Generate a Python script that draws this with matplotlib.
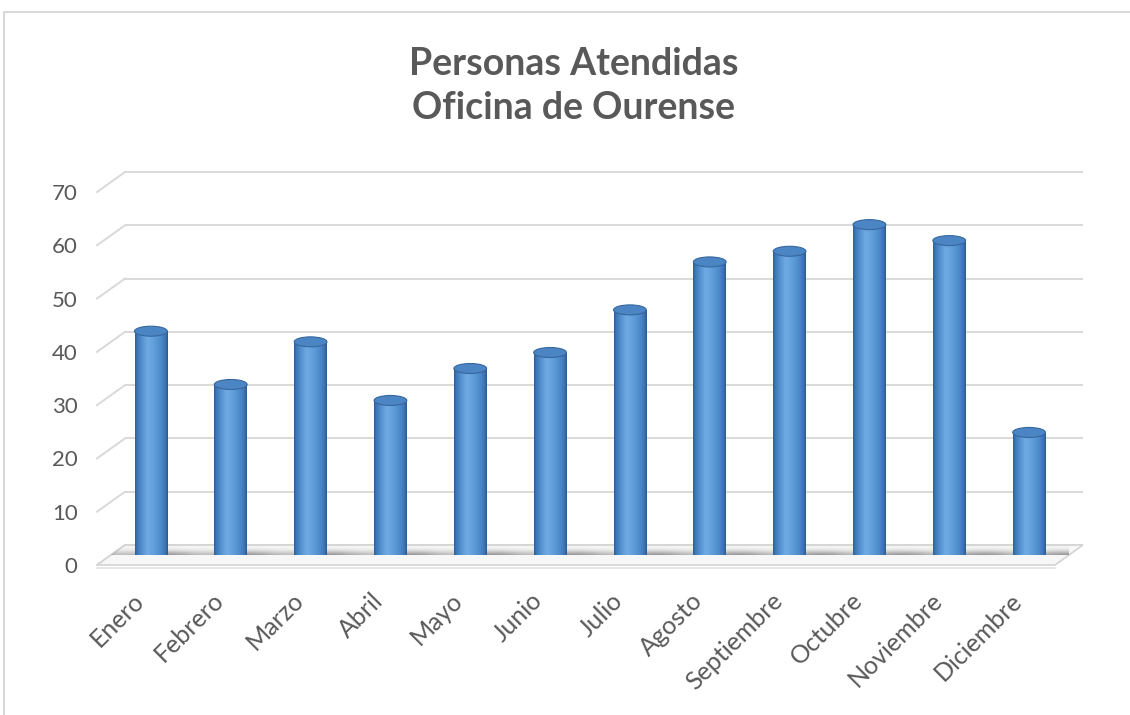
import numpy as np
import matplotlib
matplotlib.use('Agg')
import matplotlib.pyplot as plt
from matplotlib.patches import Ellipse, Polygon, Rectangle
from matplotlib.colors import LinearSegmentedColormap
from matplotlib.transforms import ScaledTranslation

# ---- data ----
months = ['Enero', 'Febrero', 'Marzo', 'Abril', 'Mayo', 'Junio', 'Julio',
          'Agosto', 'Septiembre', 'Octubre', 'Noviembre', 'Diciembre']
values = [42, 32, 40, 29, 35, 38, 46, 55, 57, 62, 59, 23]
yticks = [0, 10, 20, 30, 40, 50, 60, 70]
title_lines = ['Personas Atendidas', 'Oficina de Ourense']

W, H = 1130, 715
fig = plt.figure(figsize=(W / 100, H / 100), dpi=100)
fig.patch.set_facecolor('white')

ax = fig.add_axes([111 / W, 160 / H, 958 / W, 373 / H])
XL, XR = -0.5, 11.5
ax.set_xlim(XL, XR)
ax.set_ylim(0, 70)
ux = (XR - XL) / 958.0
uy = 70 / 373.0
DX, DY = 14, 10  # depth offsets (px)

grid_c = '#d9d9d9'
# back-plane gridlines + left diagonal
for v in yticks:
    bx0 = XL + DX * ux
    bx1 = XR + DX * ux
    by = v + DY * uy
    ax.plot([bx0, bx1], [by, by], color=grid_c, lw=1.4, clip_on=False, zorder=1,
            solid_capstyle='butt')
    ax.plot([XL - DX * ux, bx0], [v - DY * uy, by], color=grid_c, lw=1.4,
            clip_on=False, zorder=1)

# floor
floor_pts = [(XL - DX * ux, -DY * uy), (XR - DX * ux, -DY * uy),
             (XR + DX * ux, DY * uy), (XL + DX * ux, DY * uy)]
floor = Polygon(floor_pts, closed=True, fc='#f7f7f7', ec='#d4d4d4', lw=1.2,
                zorder=2, clip_on=False)
ax.add_patch(floor)
ax.plot([XL - DX * ux, XR - DX * ux], [-(DY + 3) * uy] * 2, color='#e3e3e3',
        lw=1.2, clip_on=False, zorder=2)

# floor shadow (soft band, slightly mottled)
ny, nx = 80, 240
yy = np.linspace(DY * uy, -DY * uy, ny)
prof = np.exp(-0.5 * ((yy / uy + 1.0) / 3.6) ** 2)
xx = np.linspace(0, 1, nx)
mott = 0.8 + 0.2 * np.cos(xx * 2 * np.pi * 12 + 1.2)
rgba = np.zeros((ny, nx, 4))
rgba[..., :3] = 0.33
rgba[..., 3] = 0.62 * prof[:, None] * mott[None, :]
sh = ax.imshow(rgba, extent=(XL - DX * ux, XR + DX * ux, -DY * uy, DY * uy),
               aspect='auto', zorder=3, interpolation='bilinear')
sh.set_clip_path(floor)

# bars (cylinders)
bw = 0.41
eh = 10 * uy
cyl = LinearSegmentedColormap.from_list('cyl', [
    (0.0, '#2f5f95'), (0.06, '#3d76b5'), (0.2, '#5390d0'), (0.38, '#70aae3'),
    (0.55, '#63a1dd'), (0.8, '#4d8aca'), (0.94, '#3c72b0'), (1.0, '#2c5a8e')])
grad = np.linspace(0, 1, 64)[None, :]
xs = np.arange(len(months))
bars = ax.bar(xs, values, width=bw, color='#5b9bd5', linewidth=0, zorder=4)
for x, v, rect in zip(xs, values, bars):
    im = ax.imshow(grad, extent=(x - bw / 2, x + bw / 2, -eh / 2, v), cmap=cyl,
                   aspect='auto', zorder=5, interpolation='bilinear')
    im.set_clip_path(rect)
    bot = Ellipse((x, 0), bw, eh, fc='none', ec='none', zorder=5)
    ax.add_patch(bot)
    im2 = ax.imshow(grad, extent=(x - bw / 2, x + bw / 2, -eh / 2, eh / 2), cmap=cyl,
                    aspect='auto', zorder=5, interpolation='bilinear')
    im2.set_clip_path(bot)
    top = Ellipse((x, v), bw, eh, fc='#4c85c3', ec='#35679f', lw=0.8, zorder=6)
    ax.add_patch(top)

ax.set_xlim(XL, XR)
ax.set_ylim(0, 70)

txt_c = '#595959'
ax.set_xticks(xs)
ax.set_xticklabels(months, rotation=45, ha='right', va='center',
                   rotation_mode='anchor', fontsize=18, color=txt_c,
                   family='Lato')
ax.tick_params(axis='x', length=0, pad=30)
offx = ScaledTranslation(-11 / 100, 0, fig.dpi_scale_trans)
for lab in ax.get_xticklabels():
    lab.set_transform(lab.get_transform() + offx)

ax.set_yticks(yticks)
ax.set_yticklabels([str(v) for v in yticks], fontsize=16, color=txt_c, family='Lato')
ax.tick_params(axis='y', length=0, pad=24)
offy = ScaledTranslation(0, -10 / 100, fig.dpi_scale_trans)
for lab in ax.get_yticklabels():
    lab.set_transform(lab.get_transform() + offy)

for s in ax.spines.values():
    s.set_visible(False)
ax.patch.set_visible(False)

# title
fig.text(574 / W, 1 - 64 / H, title_lines[0], ha='center', va='center',
         fontsize=27, fontweight='bold', color=txt_c, family='Lato')
fig.text(574 / W, 1 - 108 / H, title_lines[1], ha='center', va='center',
         fontsize=27, fontweight='bold', color=txt_c, family='Lato')

# chart border
fig.patches.append(Rectangle((4 / W, -0.05), 1.2, (1 - 12 / H) + 0.05,
                             transform=fig.transFigure, fill=False,
                             ec='#d9d9d9', lw=1.5))

fig.savefig('out.png', dpi=100)
